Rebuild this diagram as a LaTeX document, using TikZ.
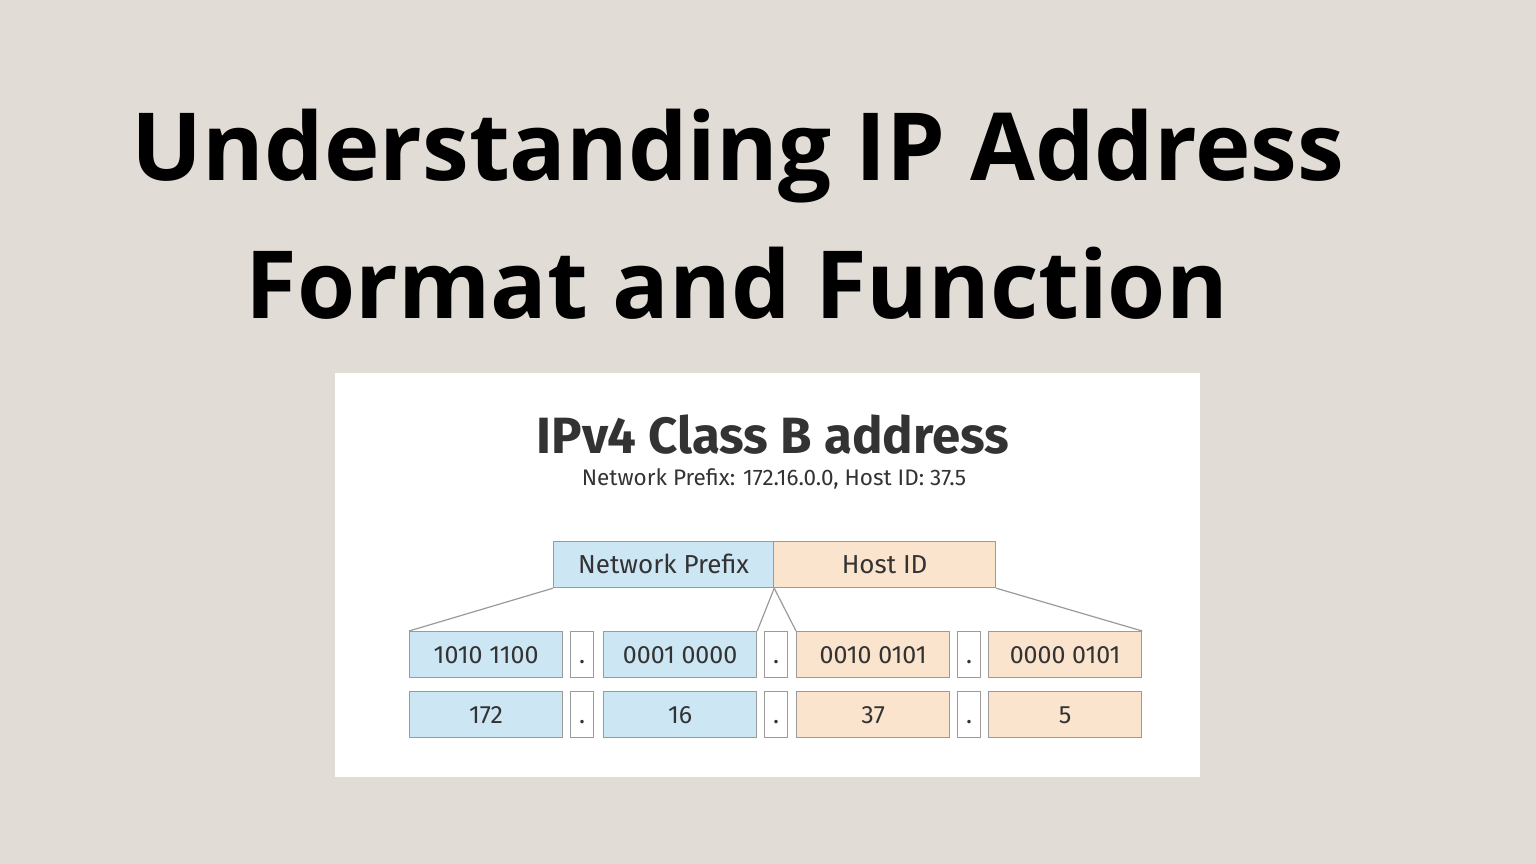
\documentclass[tikz,border=0pt]{standalone}
\usepackage{fontspec}
\newfontfamily\tfont{Open Sans}
\newfontfamily\fira{Fira Sans}
\definecolor{bgc}{RGB}{226,220,214}
\definecolor{txt}{RGB}{51,51,51}
\definecolor{bluef}{RGB}{205,230,244}
\definecolor{orf}{RGB}{251,228,205}
\definecolor{edge}{RGB}{155,155,155}
\begin{document}
\begin{tikzpicture}[x=1pt,y=-1pt,
  title/.style={font=\tfont\bfseries\fontsize{94}{110}\selectfont, anchor=base, inner sep=0},
  cell/.style={draw=edge, line width=1.2pt, minimum height=46pt, inner sep=0, text height=17pt, text depth=0pt, font=\fira\fontsize{25}{27}\selectfont, text=txt},
  bcell/.style={cell, fill=bluef, minimum width=153pt},
  ocell/.style={cell, fill=orf, minimum width=153pt},
  dcell/.style={cell, fill=white, minimum width=23pt},
  link/.style={draw=edge, line width=1.2pt}]
\useasboundingbox (0,0) rectangle (1536,864);
\fill[bgc] (0,0) rectangle (1536,864);
\node[title] (t1) at (738,180) {Understanding IP Address};
\node[title] (t2) at (737,318) {Format and Function};
\fill[white] (335,373) rectangle (1200,777);
\node[font=\fira\bfseries\fontsize{51}{55}\selectfont, text=txt, anchor=base, inner sep=0] (h1) at (773,453) {IPv4 Class B address};
\node[font=\fira\fontsize{22.5}{25}\selectfont, text=txt, anchor=base, inner sep=0] (h2) at (774,485) {Network Prefix: 172.16.0.0, Host ID: 37.5};
\node[cell, fill=bluef, minimum width=220pt, anchor=north west, font=\fira\fontsize{26}{28}\selectfont] (np) at (553,541) {Network Prefix};
\node[cell, fill=orf, minimum width=222pt, anchor=north west, font=\fira\fontsize{26}{28}\selectfont] (hi) at (773,541) {Host ID};
% row 1
\node[bcell, anchor=north west] (a1) at (409,631) {1010 1100};
\node[dcell, anchor=north west] (d11) at (570,631) {.};
\node[bcell, anchor=north west] (a2) at (603,631) {0001 0000};
\node[dcell, anchor=north west] (d12) at (764,631) {.};
\node[ocell, anchor=north west] (a3) at (796,631) {0010 0101};
\node[dcell, anchor=north west] (d13) at (957,631) {.};
\node[ocell, anchor=north west] (a4) at (988,631) {0000 0101};
% row 2
\node[bcell, anchor=north west] (b1) at (409,691) {172};
\node[dcell, anchor=north west] (d21) at (570,691) {.};
\node[bcell, anchor=north west] (b2) at (603,691) {16};
\node[dcell, anchor=north west] (d22) at (764,691) {.};
\node[ocell, anchor=north west] (b3) at (796,691) {37};
\node[dcell, anchor=north west] (d23) at (957,691) {.};
\node[ocell, anchor=north west] (b4) at (988,691) {5};
% connectors
\draw[link] (np.south west) -- (a1.north west);
\draw[link] (np.south east) -- (a2.north east);
\draw[link] (np.south east) -- (a3.north west);
\draw[link] (hi.south east) -- (a4.north east);
\end{tikzpicture}
\end{document}
